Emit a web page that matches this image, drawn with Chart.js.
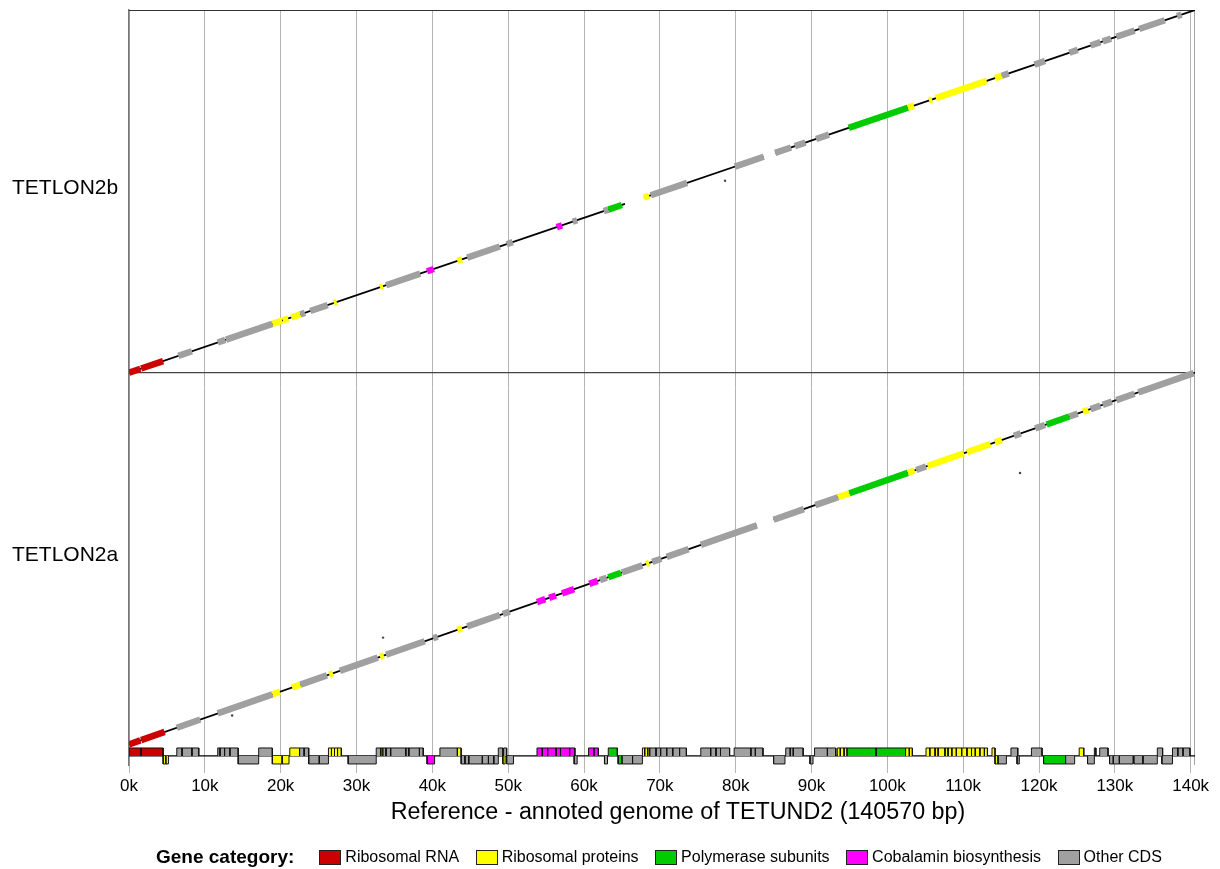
<!DOCTYPE html>
<html>
<head>
<meta charset="utf-8">
<title>Dot plot vs TETUND2</title>
<script src="https://cdn.jsdelivr.net/npm/chart.js@4.4.1/dist/chart.umd.min.js"></script>
<style>
  body { margin: 0; background: #fff; font-family: "Liberation Sans", Arial, sans-serif; overflow: hidden; }
  #wrap { position: relative; width: 1220px; height: 869px; }
  #xtitle { position: absolute; left: 136px; width: 1084px; top: 797px; line-height: 28px; text-align: center; font-size: 23.3px; color: #000; white-space: nowrap; }
  #legend { position: absolute; left: 156px; top: 847px; height: 20px; display: flex; align-items: center; white-space: nowrap; font-size: 16px; color: #000; }
  #legend b { font-size: 19px; margin-right: 25px; }
  #legend .key { display: inline-block; width: 20px; height: 13px; border: 1px solid #222; margin-right: 4px; }
  #legend .name { margin-right: 16.5px; }
</style>
</head>
<body>
<div id="wrap">
  <canvas id="dotplot" width="1220" height="869"></canvas>
  <div id="xtitle">Reference - annoted genome of TETUND2 (140570 bp)</div>
  <div id="legend"></div>
</div>
<script>
const refLength = 140570;
const xTicks = [0, 10000, 20000, 30000, 40000, 50000, 60000, 70000, 80000, 90000, 100000, 110000, 120000, 130000, 140000];
const queryNames = ["TETLON2b", "TETLON2a"];
const queryLengths = [140600, 144100];
const categories = ["Ribosomal RNA", "Ribosomal proteins", "Polymerase subunits", "Cobalamin biosynthesis", "Other CDS"];
const catColors = ["#cc0000", "#ffff00", "#00cc00", "#ff00ff", "#a0a0a0"];

// reference annotation: start kb, end kb, strand, category
const genes = [
  [0.0, 1.6, 1, 0], [1.6, 4.5, 1, 0], [4.5, 4.85, -1, 1], [4.85, 5.2, -1, 1],
  [6.3, 7.0, 1, 4], [7.0, 8.3, 1, 4], [8.3, 9.2, 1, 4],
  [11.7, 12.0, 1, 4], [12.0, 12.6, 1, 4], [12.6, 13.3, 1, 4], [13.3, 14.4, 1, 4],
  [14.4, 17.1, -1, 4], [17.1, 18.9, 1, 4], [18.9, 20.2, -1, 1], [20.2, 21.1, -1, 1],
  [21.2, 22.5, 1, 1], [22.5, 23.1, 1, 4], [23.1, 23.7, 1, 4], [23.7, 25.1, -1, 4], [25.1, 26.3, -1, 4],
  [26.3, 26.7, 1, 1], [26.7, 27.1, 1, 1], [27.1, 27.5, 1, 1], [27.5, 28.0, 1, 1],
  [28.9, 32.6, -1, 4], [32.6, 33.2, 1, 4], [33.2, 33.5, 1, 1], [33.5, 33.9, 1, 4], [33.9, 34.5, 1, 4],
  [34.5, 36.5, 1, 4], [36.5, 36.9, 1, 4], [36.9, 38.3, 1, 4], [38.3, 38.8, 1, 4],
  [39.3, 40.3, -1, 3], [41.0, 43.3, 1, 4], [43.3, 43.8, 1, 1],
  [43.8, 44.3, -1, 4], [44.3, 44.8, -1, 4], [44.8, 46.6, -1, 4], [46.6, 47.4, -1, 4], [47.4, 48.1, -1, 4], [48.1, 48.7, -1, 4],
  [48.7, 49.3, 1, 4], [49.3, 49.6, -1, 1], [49.4, 49.8, 1, 4], [49.8, 50.7, -1, 4],
  [53.8, 54.5, 1, 3], [54.5, 55.2, 1, 3], [55.2, 56.3, 1, 3], [56.3, 56.9, 1, 3], [56.9, 58.1, 1, 3], [58.1, 58.8, 1, 3],
  [58.7, 59.1, -1, 4], [60.6, 61.3, 1, 3], [61.3, 61.9, 1, 3], [62.7, 63.1, -1, 4],
  [63.2, 64.4, 1, 2], [64.5, 65.0, -1, 2], [65.0, 66.4, -1, 4], [66.4, 67.7, -1, 4],
  [67.7, 68.0, 1, 1], [68.0, 68.4, 1, 1], [68.4, 68.7, 1, 1],
  [68.7, 69.5, 1, 4], [69.5, 70.1, 1, 4], [70.1, 70.9, 1, 4], [70.9, 71.7, 1, 4], [71.7, 72.6, 1, 4], [72.6, 73.5, 1, 4],
  [75.4, 76.7, 1, 4], [76.7, 77.4, 1, 4], [77.4, 78.0, 1, 4], [78.0, 79.2, 1, 4],
  [79.8, 82.0, 1, 4], [82.0, 82.6, 1, 4], [82.6, 83.6, 1, 4],
  [85.0, 86.5, -1, 4], [86.6, 87.2, 1, 4], [87.2, 87.6, 1, 4], [87.6, 88.9, 1, 4], [89.8, 90.2, -1, 4],
  [90.4, 92.1, 1, 4], [92.1, 93.2, 1, 4], [93.4, 93.8, 1, 1], [93.8, 94.3, 1, 1], [94.3, 94.7, 1, 1],
  [94.7, 98.5, 1, 2], [98.5, 102.4, 1, 2], [102.4, 102.9, 1, 1], [102.9, 103.3, 1, 1],
  [105.1, 105.6, 1, 1], [105.6, 106.3, 1, 1], [106.3, 106.7, 1, 1], [106.7, 107.6, 1, 1], [107.6, 108.0, 1, 1],
  [108.0, 108.5, 1, 1], [108.5, 109.1, 1, 1], [109.1, 109.8, 1, 1], [109.8, 110.5, 1, 1], [110.5, 111.1, 1, 1],
  [111.1, 111.6, 1, 1], [111.6, 112.2, 1, 1], [112.2, 112.8, 1, 1], [112.8, 113.2, 1, 1],
  [113.8, 114.2, 1, 1], [114.2, 114.6, -1, 1], [114.6, 115.7, -1, 4], [116.3, 117.2, 1, 4], [117.1, 117.4, -1, 4],
  [119.0, 120.4, 1, 4], [120.6, 123.5, -1, 2], [123.5, 124.7, -1, 4], [125.3, 125.9, 1, 1],
  [126.4, 127.3, -1, 4], [127.3, 127.5, 1, 4], [128.0, 129.1, 1, 4],
  [129.3, 129.8, -1, 4], [129.8, 130.6, -1, 4], [130.6, 132.4, -1, 4], [132.5, 133.7, -1, 4], [133.7, 135.6, -1, 4],
  [135.6, 136.3, 1, 4], [136.2, 137.6, -1, 4], [137.6, 138.3, 1, 4], [138.3, 139.0, 1, 4], [139.0, 139.9, 1, 4]
];

// aligned blocks: ref start kb, ref end kb, query start kb, query end kb
const blocks2b = [[0, 65.4, 0, 65.4], [67.9, 83.7, 67.9, 83.7], [85.2, 140.57, 85.2, 140.6]];
const blocks2a = [[0, 82.8, 0, 84.9], [85.0, 140.57, 87.1, 144.1]];

// matched genes on the diagonal: ref start kb, ref end kb, category
const hits2b = [
  [0, 1.5, 0], [1.6, 4.5, 0], [6.5, 8.3, 4], [11.7, 12.7, 4], [12.8, 18.9, 4],
  [18.9, 20.2, 1], [20.3, 21.0, 1], [21.4, 22.6, 1], [22.6, 23.2, 4], [23.9, 26.2, 4], [27.0, 27.4, 1],
  [33.1, 33.5, 1], [33.9, 38.4, 4], [39.3, 40.2, 3], [43.3, 43.9, 1], [44.6, 48.9, 4], [49.8, 50.6, 4],
  [56.4, 57.1, 3], [58.5, 59.1, 4], [62.6, 63.2, 4], [63.2, 65.0, 2],
  [67.9, 68.6, 1], [68.8, 73.6, 4], [79.9, 83.7, 4], [85.2, 87.3, 4], [87.8, 89.2, 4], [90.6, 92.3, 4],
  [94.9, 102.7, 2], [102.7, 103.5, 1], [105.5, 105.9, 1], [106.4, 113.1, 1], [114.2, 115.1, 1], [115.1, 116.0, 4],
  [119.4, 120.8, 4], [124.0, 125.1, 4], [126.8, 128.1, 4], [128.4, 129.5, 4], [130.2, 132.6, 4], [133.2, 136.6, 4],
  [138.2, 138.8, 4]
];
const hits2a = [
  [0, 1.5, 0], [1.6, 4.7, 0], [6.3, 9.4, 4], [11.7, 18.9, 4], [18.9, 19.9, 1],
  [21.5, 22.6, 1], [22.6, 26.1, 4], [26.4, 26.9, 1], [27.8, 32.8, 4], [33.1, 33.6, 1], [33.9, 39.0, 4],
  [40.1, 40.7, 4], [43.3, 43.9, 1], [44.6, 48.9, 4], [49.3, 50.2, 4],
  [53.8, 54.9, 3], [55.4, 56.3, 3], [57.1, 58.7, 3], [60.7, 61.8, 3], [62.1, 63.0, 4], [63.2, 64.9, 2], [65.0, 67.7, 4],
  [68.2, 68.6, 1], [69.0, 70.2, 4], [70.9, 73.8, 4], [75.4, 82.8, 4], [85.0, 89.0, 4],
  [90.5, 93.5, 4], [93.5, 95.0, 1], [95.0, 102.7, 2], [102.7, 103.6, 1], [103.8, 105.1, 4],
  [105.3, 110.1, 1], [110.5, 113.6, 1], [114.2, 115.1, 1], [116.7, 117.6, 4],
  [119.5, 120.8, 4], [121.0, 124.0, 2], [124.0, 125.1, 4], [125.8, 126.5, 1],
  [126.8, 128.1, 4], [128.4, 129.6, 4], [130.2, 132.6, 4], [133.1, 140.4, 4]
];

// stray short matches: ref kb, query kb
const dots2b = [[78.6, 74.4]];
const dots2a = [[117.5, 105.2], [33.5, 41.4], [13.6, 11.2]];

// vertical layout of the gene track (in y-axis units below the lower panel)
const Y_MIN = -8000, BASE = -4500, FWD_EDGE = -1400, REV_EDGE = -7600, LABEL_LIFT = 1200;
const lenA = queryLengths[1] * 1, lenB = queryLengths[0] * 1;
const offsets = [lenA, 0];

function toQuery(blocks, r) {
  for (const b of blocks) {
    if (r >= b[0] && r <= b[1]) return b[2] + (r - b[0]) * (b[3] - b[2]) / (b[1] - b[0]);
  }
  return null;
}

function linePoints(blocks, off) {
  const pts = [];
  blocks.forEach(b => {
    pts.push({ x: b[0] * 1000, y: off + b[2] * 1000 }, { x: b[1] * 1000, y: off + b[3] * 1000 }, { x: b[1] * 1000, y: null });
  });
  return pts;
}

function hitPoints(hits, blocks, off, cat) {
  const pts = [];
  hits.filter(h => h[2] === cat).forEach(h => {
    const q0 = toQuery(blocks, h[0]), q1 = toQuery(blocks, h[1]);
    if (q0 === null || q1 === null) return;
    pts.push({ x: h[0] * 1000, y: off + q0 * 1000 }, { x: h[1] * 1000, y: off + q1 * 1000 }, { x: h[1] * 1000, y: null });
  });
  return pts;
}

function boxPoints(cat, strand) {
  const edge = strand > 0 ? FWD_EDGE : REV_EDGE;
  const pts = [];
  genes.filter(g => g[3] === cat && g[2] === strand).forEach(g => {
    const s = g[0] * 1000, e = g[1] * 1000;
    pts.push({ x: s, y: BASE }, { x: s, y: edge }, { x: e, y: edge }, { x: e, y: BASE }, { x: e, y: null });
  });
  return pts;
}

const datasets = [];
// frame: top edge, panel separator, right edge
datasets.push({ data: [{ x: 0, y: lenA + lenB }, { x: refLength, y: lenA + lenB }], borderColor: "#333", borderWidth: 2 });
datasets.push({ data: [{ x: 0, y: lenA }, { x: refLength, y: lenA }], borderColor: "#444", borderWidth: 1.2 });
datasets.push({ data: [{ x: refLength, y: Y_MIN }, { x: refLength, y: lenA + lenB }], borderColor: "#666", borderWidth: 1.2 });

[[blocks2b, hits2b, dots2b], [blocks2a, hits2a, dots2a]].forEach(([blocks, hits, dots], p) => {
  const off = offsets[p];
  datasets.push({ data: linePoints(blocks, off), borderColor: "#000", borderWidth: 1.8 });
  categories.forEach((c, ci) => {
    datasets.push({ data: hitPoints(hits, blocks, off, ci), borderColor: catColors[ci], borderWidth: 6.5 });
  });
  datasets.push({
    data: dots.map(d => ({ x: d[0] * 1000, y: off + d[1] * 1000 })),
    showLine: false, pointRadius: 1.2, pointBackgroundColor: "#444", pointBorderWidth: 0
  });
});

// gene track
datasets.push({ data: [{ x: 0, y: BASE }, { x: refLength, y: BASE }], borderColor: "#000", borderWidth: 1.2 });
categories.forEach((c, ci) => {
  [1, -1].forEach(strand => {
    datasets.push({
      data: boxPoints(ci, strand), borderColor: "#111", borderWidth: 1,
      backgroundColor: catColors[ci], fill: { value: BASE }
    });
  });
});

datasets.forEach((d, i) => { d.order = -i; });

new Chart(document.getElementById("dotplot"), {
  type: "line",
  data: { datasets },
  options: {
    responsive: false,
    animation: false,
    events: [],
    layout: { padding: { left: 12, top: 10, right: 25, bottom: 0 } },
    elements: { point: { radius: 0 }, line: { tension: 0, borderCapStyle: "butt" } },
    plugins: { legend: { display: false }, tooltip: { enabled: false } },
    scales: {
      x: {
        type: "linear", min: 0, max: refLength,
        afterBuildTicks: s => { s.ticks = xTicks.map(v => ({ value: v })); },
        afterFit: s => { s.height = 104; s.paddingLeft = 0; s.paddingRight = 0; },
        ticks: {
          autoSkip: false, maxRotation: 0, padding: 3, color: "#000",
          font: { family: "'Liberation Sans', Arial, sans-serif", size: 17 },
          callback: v => v / 1000 + "k"
        },
        grid: { color: "#b4b4b4", tickColor: "#b4b4b4", tickLength: 8, lineWidth: 1 },
        border: { display: false }
      },
      y: {
        type: "linear", min: Y_MIN, max: lenA + lenB,
        afterBuildTicks: s => { s.ticks = [{ value: lenA / 2 + LABEL_LIFT }, { value: lenA + lenB / 2 + LABEL_LIFT }]; },
        afterFit: s => { s.width = 117; s.paddingTop = 0; s.paddingBottom = 0; },
        ticks: {
          autoSkip: false, crossAlign: "far", padding: 0, color: "#000",
          font: { family: "'Liberation Sans', Arial, sans-serif", size: 21 },
          callback: (v, i) => queryNames[1 - i]
        },
        grid: { display: false },
        border: { display: true, color: "#777", width: 1.5 }
      }
    }
  }
});

// legend row
const legend = document.getElementById("legend");
legend.innerHTML = "<b>Gene category:</b>" + categories.map((c, i) =>
  `<span class="key" style="background:${catColors[i]}"></span><span class="name">${c}</span>`).join("");
</script>
</body>
</html>
